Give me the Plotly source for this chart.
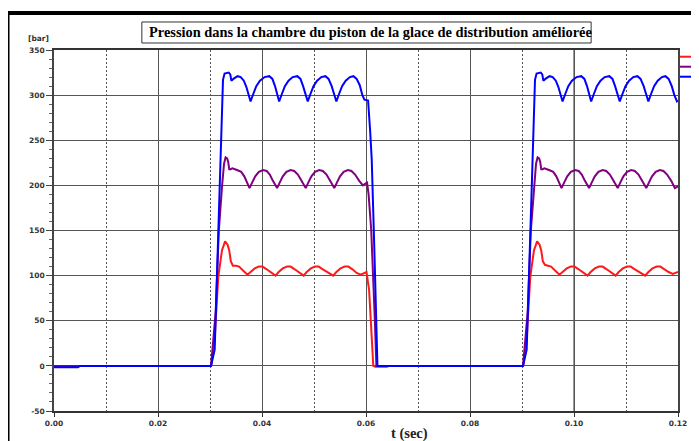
import plotly.graph_objects as go

# ---- data (time in s, pressure in bar) ----
t_red = [0.0, 0.0302, 0.0309, 0.0316, 0.0323, 0.0329, 0.0334, 0.0337, 0.0340, 0.0344, 0.0350, 0.0356,
         0.0363, 0.0372, 0.0378, 0.0386, 0.0394, 0.0401, 0.0409, 0.0418, 0.0426, 0.0432, 0.0440,
         0.0448, 0.0455, 0.0463, 0.0472, 0.0480, 0.0486, 0.0494, 0.0502, 0.0509, 0.0517, 0.0527,
         0.0537, 0.0543, 0.0551, 0.0559, 0.0566, 0.0574, 0.0582, 0.0590, 0.0596, 0.0601, 0.0606,
         0.0611, 0.0614, 0.0618, 0.0640, 0.0645,
         0.0902, 0.0909, 0.0916, 0.0923, 0.0929, 0.0934, 0.0937, 0.0940, 0.0944, 0.0950, 0.0956,
         0.0963, 0.0972, 0.0978, 0.0986, 0.0994, 0.1001, 0.1009, 0.1018, 0.1026, 0.1032, 0.1040,
         0.1048, 0.1055, 0.1063, 0.1072, 0.1080, 0.1086, 0.1094, 0.1102, 0.1109, 0.1117, 0.1127,
         0.1137, 0.1143, 0.1151, 0.1159, 0.1166, 0.1174, 0.1182, 0.1190, 0.1196, 0.1200]
p_red = [0, 0, 30, 99, 128, 138, 134, 128, 116, 111, 111, 110,
         106, 101, 104, 108, 110, 110, 107, 103, 100, 104, 108,
         110, 110, 107, 103, 100, 104, 108, 110, 110, 107, 103,
         100, 104, 108, 110, 110, 107, 103, 101, 103, 104, 84,
         37, 0, -1, -1, 0,
         0, 30, 99, 128, 138, 134, 128, 116, 112, 111, 110,
         106, 101, 104, 108, 110, 110, 107, 103, 100, 104, 108,
         110, 110, 107, 103, 100, 104, 108, 110, 110, 107, 103,
         100, 104, 108, 110, 110, 107, 104, 102, 103, 104]

t_purple = [0.0, 0.0302, 0.0311, 0.0317, 0.0323, 0.0327, 0.0330, 0.0333, 0.0335, 0.0337, 0.0340,
            0.0343, 0.0352, 0.0360, 0.0366, 0.0371, 0.0376, 0.0381, 0.0387, 0.0394, 0.0402, 0.0409,
            0.0415, 0.0421, 0.0429, 0.0434, 0.0440, 0.0447, 0.0455, 0.0462, 0.0469, 0.0476, 0.0484,
            0.0489, 0.0495, 0.0502, 0.0510, 0.0517, 0.0524, 0.0531, 0.0539, 0.0544, 0.0550, 0.0557,
            0.0565, 0.0572, 0.0579, 0.0587, 0.0594, 0.0599, 0.0602, 0.0605, 0.0610, 0.0617, 0.0620,
            0.0902, 0.0911, 0.0917, 0.0923, 0.0927, 0.0930, 0.0933, 0.0935, 0.0937, 0.0940,
            0.0943, 0.0952, 0.0960, 0.0966, 0.0971, 0.0976, 0.0981, 0.0987, 0.0994, 0.1002, 0.1009,
            0.1015, 0.1021, 0.1029, 0.1034, 0.1040, 0.1047, 0.1055, 0.1062, 0.1069, 0.1076, 0.1084,
            0.1089, 0.1095, 0.1102, 0.1110, 0.1117, 0.1124, 0.1131, 0.1139, 0.1144, 0.1150, 0.1157,
            0.1165, 0.1172, 0.1179, 0.1187, 0.1194, 0.1200]
p_purple = [0, 0, 60, 150, 198, 224, 231, 230, 226, 218, 218,
            219, 217, 215, 210, 204, 197, 203, 210, 215, 217, 216,
            212, 205, 197, 203, 210, 215, 217, 216, 212, 205, 197,
            203, 210, 215, 217, 216, 212, 205, 197, 203, 210, 215,
            217, 216, 212, 205, 200, 202, 203, 190, 151, 51, 0,
            0, 60, 150, 198, 224, 231, 230, 226, 218, 218,
            219, 217, 215, 210, 204, 197, 203, 210, 215, 217, 216,
            212, 205, 197, 203, 210, 215, 217, 216, 212, 205, 197,
            203, 210, 215, 217, 216, 212, 205, 197, 203, 210, 215,
            217, 216, 212, 205, 197, 199]

t_blue = [0.0, 0.0046, 0.0050, 0.0302, 0.0309, 0.0318, 0.0325, 0.0328, 0.0336, 0.0339, 0.0341,
          0.0345, 0.0353, 0.0359, 0.0365, 0.0370, 0.0374, 0.0378, 0.0383, 0.0389, 0.0396, 0.0405,
          0.0414, 0.0420, 0.0425, 0.0429, 0.0433, 0.0438, 0.0444, 0.0451, 0.0459, 0.0468, 0.0474,
          0.0479, 0.0484, 0.0488, 0.0493, 0.0499, 0.0506, 0.0514, 0.0522, 0.0528, 0.0534, 0.0539,
          0.0543, 0.0548, 0.0554, 0.0561, 0.0569, 0.0576, 0.0582, 0.0588, 0.0593, 0.0597, 0.0604,
          0.0608, 0.0611, 0.0616, 0.0622,
          0.0902, 0.0909, 0.0918, 0.0925, 0.0928, 0.0936, 0.0939, 0.0941,
          0.0945, 0.0953, 0.0959, 0.0965, 0.0970, 0.0974, 0.0978, 0.0983, 0.0989, 0.0996, 0.1005,
          0.1014, 0.1020, 0.1025, 0.1029, 0.1033, 0.1038, 0.1044, 0.1051, 0.1059, 0.1068, 0.1074,
          0.1079, 0.1084, 0.1088, 0.1093, 0.1099, 0.1106, 0.1114, 0.1122, 0.1128, 0.1134, 0.1139,
          0.1143, 0.1148, 0.1154, 0.1161, 0.1169, 0.1176, 0.1182, 0.1188, 0.1193, 0.1198, 0.1200]
p_blue = [-1.5, -1.5, 0, 0, 18, 184, 317, 324, 325, 323, 316,
          318, 321, 320, 316, 309, 300, 293, 301, 310, 316, 320,
          321, 318, 310, 300, 293, 301, 310, 316, 320, 321, 318,
          310, 300, 293, 301, 310, 316, 320, 321, 318, 310, 300,
          293, 301, 310, 316, 320, 321, 318, 311, 300, 295, 294,
          260, 229, 130, 0,
          0, 18, 184, 317, 324, 325, 323, 316,
          318, 321, 320, 316, 309, 300, 293, 301, 310, 316, 320,
          321, 318, 310, 300, 293, 301, 310, 316, 320, 321, 318,
          310, 300, 293, 301, 310, 316, 320, 321, 318, 310, 300,
          293, 301, 310, 316, 320, 321, 318, 310, 300, 293, 294]

series = [("P1", t_red, p_red, "#ff1a1a"),
          ("P2", t_purple, p_purple, "#800080"),
          ("P3", t_blue, p_blue, "#0000ff")]

y_tickvals = [-50, 0, 50, 100, 150, 200, 250, 300, 350]
y_ticktext = ["-50", "0", "50", "100", "150", "200", "250", "300", "350"]
x_tickvals = [0.00, 0.02, 0.04, 0.06, 0.08, 0.10, 0.12]
x_ticktext = ["0.00", "0.02", "0.04", "0.06", "0.08", "0.10", "0.12"]

title_text = "Pression dans la chambre du piston de la glace de distribution améliorée"
x_title = "t (sec)"
y_unit = "[bar]"

fig = go.Figure()
for name, t, p, col in series:
    fig.add_trace(go.Scatter(x=t, y=p, mode="lines", name=name,
                             line=dict(color=col, width=2), showlegend=False))

tickfont = dict(family="DejaVu Sans", size=7.5, color="#333", weight="bold")

fig.update_layout(
    width=691, height=433,
    margin=dict(l=46, r=13, t=42, b=30),
    paper_bgcolor="white", plot_bgcolor="white",
    showlegend=False,
    xaxis=dict(range=[0, 0.12], tickmode="array", tickvals=x_tickvals, ticktext=x_ticktext,
               showgrid=True, gridcolor="#555", gridwidth=1,
               minor=dict(dtick=0.01, tick0=0, showgrid=True, griddash="2px,2px",
                          gridcolor="#555", gridwidth=1),
               showline=True, linecolor="#333", linewidth=2, mirror=True,
               ticks="outside", ticklen=4, tickcolor="#333",
               tickfont=tickfont, zeroline=False),
    yaxis=dict(range=[-50, 350], tickmode="array", tickvals=y_tickvals, ticktext=y_ticktext,
               showgrid=True, gridcolor="#555", gridwidth=1,
               minor=dict(dtick=10, tick0=0, ticks="outside", ticklen=3, tickcolor="#666",
                          showgrid=False),
               showline=True, linecolor="#444", linewidth=1.5, mirror=True,
               ticks="outside", ticklen=6, tickcolor="#444",
               tickfont=tickfont, zeroline=False),
)

shapes = [
    # outer black frame
    dict(type="rect", xref="paper", yref="paper", x0=-0.0745, x1=1.06, y0=-0.15, y1=1.1025,
         line=dict(color="black", width=4), fillcolor="rgba(0,0,0,0)"),
    # title box
    dict(type="rect", xref="paper", yref="paper", x0=0.1408, x1=0.8608, y0=1.0194, y1=1.0776,
         line=dict(color="#333", width=1), fillcolor="white"),
    # lighter grid line at 0.10
    dict(type="line", xref="x", yref="paper", x0=0.10, x1=0.10, y0=0, y1=1,
         line=dict(color="#9a9a9a", width=2), layer="between"),
]
# legend keys (labels cut off in the reference)
for (name, t, p, col), yk in zip(series, [0.9814, 0.9537, 0.926]):
    shapes.append(dict(type="line", xref="paper", yref="paper", x0=1.0032, x1=1.03,
                       y0=yk, y1=yk, line=dict(color=col, width=2)))
fig.update_layout(shapes=shapes)

fig.add_annotation(text="<b>" + title_text + "</b>", xref="paper", yref="paper",
                   x=0.507, y=1.0485, xanchor="center", yanchor="middle", showarrow=False,
                   font=dict(family="Liberation Serif", size=14.4, color="black"))
fig.add_annotation(text="<b>" + y_unit + "</b>", xref="paper", yref="paper",
                   x=-0.0253, y=1.0332, xanchor="center", yanchor="middle", showarrow=False,
                   font=dict(family="DejaVu Sans", size=7.5, color="#333"))
fig.add_annotation(text="<b>" + x_title + "</b>", xref="paper", yref="paper",
                   x=0.5696, y=-0.061, xanchor="center", yanchor="middle", showarrow=False,
                   font=dict(family="Liberation Serif", size=14.5, color="#222"))

fig.write_html("out.html")
